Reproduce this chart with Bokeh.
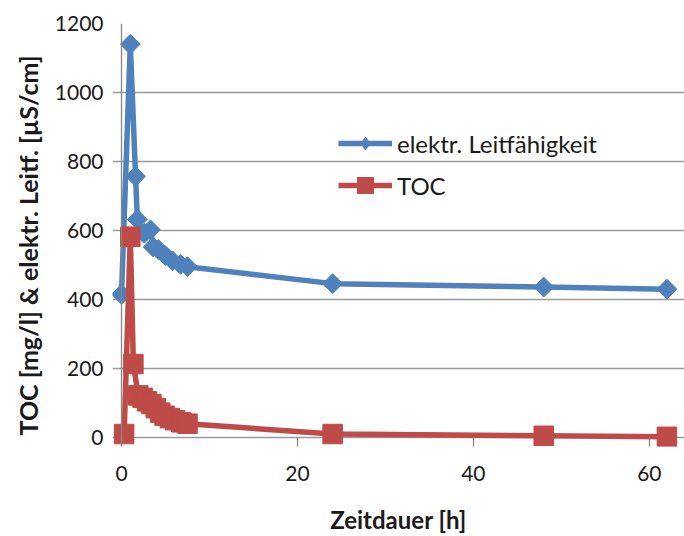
import numpy as np
from bokeh.plotting import figure
from bokeh.models import Range1d, FixedTicker, Legend, LegendItem, Span, Title
from bokeh.embed import file_html
from bokeh.resources import INLINE

# ---- data ----
hours_lf = [0, 1.0, 1.6, 1.8, 2.6, 3.3, 3.6, 4.2, 5.0, 5.8, 6.7, 7.5, 24, 48, 62]
leitf = [415, 1140, 757, 632, 592, 602, 552, 545, 527, 512, 502, 495, 446, 436, 430]

hours_toc = [0.3, 1.0, 1.35, 1.9, 2.4, 2.9, 3.4, 3.9, 4.4, 4.9, 5.5, 6.1, 6.8, 7.5, 24, 48, 62]
toc = [10, 582, 213, 122, 115, 105, 97, 85, 72, 63, 56, 50, 44, 40, 10, 5, 2]

x_ticks = [0, 20, 40, 60]
y_ticks = [0, 200, 400, 600, 800, 1000, 1200]

label_lf = "elektr. Leitfähigkeit"
label_toc = "TOC"
x_title = "Zeitdauer [h]"
y_title = "TOC [mg/l] & elektr. Leitf. [µS/cm]"

BLUE = "#4F81BD"
RED = "#BE4B48"
AXIS = "#868686"
FONT = "Lato"
TXT = "#1a1a1a"

p = figure(width=684, height=536, output_backend="svg", toolbar_location=None,
           x_range=Range1d(-1.023, 64.0), y_range=Range1d(-26.1, 1200),
           min_border_left=112, min_border_right=0, min_border_top=23,
           min_border_bottom=90)
p.outline_line_color = None
p.background_fill_color = "white"
p.border_fill_color = "white"

# axes (y axis line drawn as a span at x=0, labels at the frame edges)
p.xaxis.ticker = FixedTicker(ticks=x_ticks)
p.yaxis.ticker = FixedTicker(ticks=y_ticks)
for ax in (p.xaxis, p.yaxis):
    ax.axis_line_color = None
    ax.major_tick_line_color = AXIS
    ax.major_tick_line_width = 1.3
    ax.minor_tick_line_color = None
    ax.major_label_text_font = FONT
    ax.major_label_text_font_size = "21px"
    ax.major_label_text_color = TXT
    ax.axis_label_text_font = FONT
    ax.axis_label_text_font_size = "24px"
    ax.axis_label_text_font_style = "bold"
    ax.axis_label_text_color = TXT
p.xaxis.major_tick_in = 9
p.xaxis.major_tick_out = 0
p.yaxis.major_tick_in = 0
p.yaxis.major_tick_out = 0
p.xaxis.axis_label = x_title
p.xaxis.major_label_standoff = 19
p.yaxis.major_label_standoff = 9
p.xaxis.axis_label_standoff = 21

p.xgrid.grid_line_color = None
p.ygrid.ticker = FixedTicker(ticks=y_ticks)
p.ygrid.grid_line_color = "#9a9a9a"
p.ygrid.grid_line_width = 1.3

p.add_layout(Span(location=0, dimension="height", line_color=AXIS, line_width=1.3))

# y axis title as a side title, starting at the bottom (offset shifts it up)
p.add_layout(Title(text=y_title, align="left", offset=11, standoff=18,
                   text_font=FONT, text_font_size="25px", text_font_style="bold",
                   text_color=TXT), "left")

# series
l_lf = p.line(hours_lf, leitf, line_color=BLUE, line_width=5.5)
m_lf = p.scatter(hours_lf, leitf, marker="square", angle=np.pi / 4, size=14,
                 fill_color=BLUE, line_color=BLUE)
l_toc = p.line(hours_toc, toc, line_color=RED, line_width=5.5)
m_toc = p.scatter(hours_toc, toc, marker="square", size=19.5,
                  fill_color=RED, line_color=RED)
# legend symbol for the conductivity series (size 0: draws nothing in the plot)
leg_diamond = p.scatter(hours_lf, leitf, marker="diamond", size=0,
                        fill_color=BLUE, line_color=BLUE)

def make_legend(item, gh, loc):
    return Legend(items=[item], location=loc, glyph_width=54, glyph_height=gh,
                  label_height=30, label_standoff=5, padding=0, margin=0,
                  spacing=0, border_line_color=None, background_fill_alpha=0,
                  label_text_font=FONT, label_text_font_size="24px",
                  label_text_color=TXT)

p.add_layout(make_legend(LegendItem(label=label_lf, renderers=[l_lf, leg_diamond]), 32, (226, 287)))
p.add_layout(make_legend(LegendItem(label=label_toc, renderers=[l_toc, m_toc]), 40, (226, 241)))

open("out.html", "w").write(file_html(p, INLINE))
